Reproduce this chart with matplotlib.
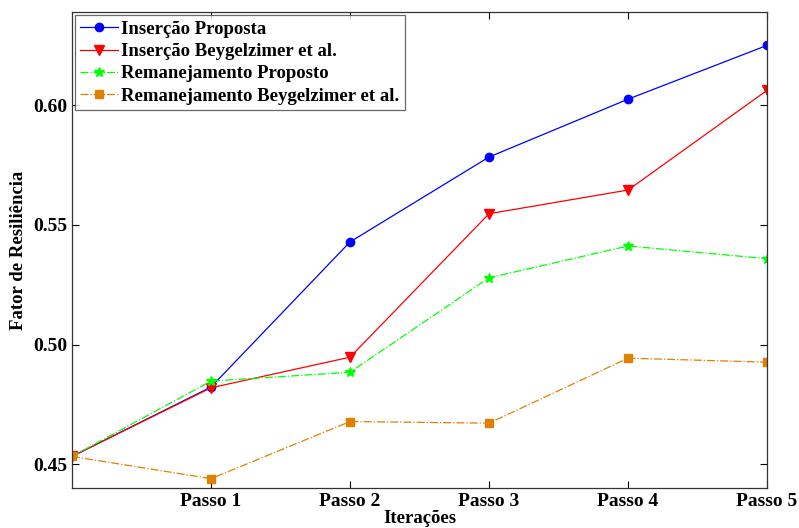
import matplotlib
matplotlib.use("Agg")
import matplotlib.pyplot as plt

x = [0, 1, 2, 3, 4, 5]
xtick_pos = [1, 2, 3, 4, 5]
xtick_labels = ["Passo 1", "Passo 2", "Passo 3", "Passo 4", "Passo 5"]
ins_prop = [0.4532, 0.4822, 0.5429, 0.5784, 0.6026, 0.6251]
ins_bey = [0.4532, 0.4819, 0.4947, 0.5547, 0.5646, 0.6063]
rem_prop = [0.4532, 0.4847, 0.4884, 0.5279, 0.5412, 0.5359]
rem_bey = [0.4532, 0.4439, 0.4678, 0.4671, 0.4943, 0.4926]
labels = ["Inserção Proposta", "Inserção Beygelzimer et al.",
          "Remanejamento Proposto", "Remanejamento Beygelzimer et al."]

plt.rcParams['font.family'] = ['Liberation Serif', 'DejaVu Serif']
plt.rcParams['font.weight'] = 'bold'

fig = plt.figure(figsize=(7.99, 5.28), dpi=100)
ax = fig.add_axes([0.0901, 0.0758, 0.960 - 0.0901, 0.977 - 0.0758])

orange = '#E08000'
ax.plot(x, ins_prop, '-', color='#0000FF', marker='o', markersize=6, lw=0.9, label=labels[0])
ax.plot(x, ins_bey, '-', color='#FF0000', marker='v', markersize=7, lw=0.9, label=labels[1])
ax.plot(x, rem_prop, '-.', color='#00FF00', marker='*', markersize=7, lw=0.9, label=labels[2])
ax.plot(x, rem_bey, '-.', color=orange, marker='s', markersize=6, lw=0.9, label=labels[3],
        markerfacecolor=orange, markeredgecolor=orange)

ax.set_xlim(0, 5)
ax.set_ylim(0.44, 0.639)
ax.set_xticks(xtick_pos)
ax.set_xticklabels(xtick_labels)
ax.set_yticks([0.45, 0.50, 0.55, 0.60])
ax.set_yticklabels(["0.45", "0.50", "0.55", "0.60"])
ax.tick_params(direction='in', top=True, right=True, labelsize=14, length=5, width=0.8)
for lab in ax.get_xticklabels() + ax.get_yticklabels():
    lab.set_fontweight('bold')
for s in ax.spines.values():
    s.set_linewidth(0.9)
    s.set_color('#333333')

ax.set_xlabel("Iterações", fontsize=13.5, fontweight='bold', labelpad=0)
ax.set_ylabel("Fator de Resiliência", fontsize=13.5, fontweight='bold', labelpad=4)

leg = ax.legend(loc='upper left', fontsize=13.5, frameon=True, fancybox=False,
                borderaxespad=0.15, handlelength=2.0, handletextpad=0.15,
                labelspacing=0.28, borderpad=0.3, edgecolor='#444444')
leg.get_frame().set_linewidth(0.9)
for t in leg.get_texts():
    t.set_fontweight('bold')

fig.savefig("out.png", dpi=100)
